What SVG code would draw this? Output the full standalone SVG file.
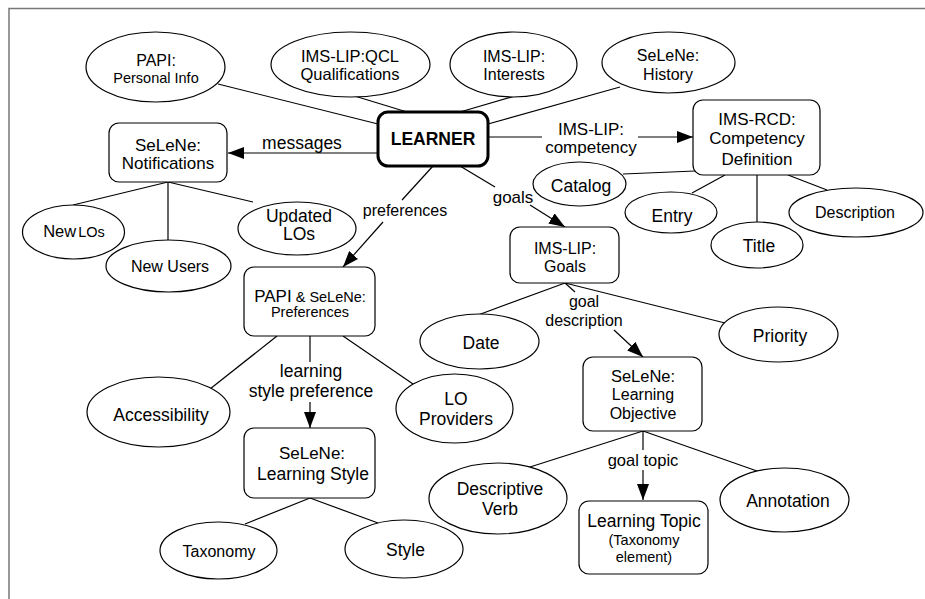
<svg xmlns="http://www.w3.org/2000/svg" width="925" height="599" viewBox="0 0 925 599">
<style>
text{font-family:"Liberation Sans",Arial,sans-serif;fill:#000;text-anchor:middle}
.n{fill:#fff;stroke:#000;stroke-width:1.2}
.b{fill:#fff;stroke:#000;stroke-width:1.2}
.c line,.c path{stroke:#000;stroke-width:1.2;fill:none}
.a{marker-end:url(#ah)}
.s175{font-size:17.5px}.s17{font-size:17px}.s165{font-size:16.5px}.s16{font-size:16px}.s145{font-size:14.5px}
</style>
<defs>
<marker id="ah" markerUnits="userSpaceOnUse" markerWidth="16" markerHeight="12" refX="16" refY="6" orient="auto">
<path d="M0,0 L16,6 L0,12 z" fill="#000"/>
</marker>
</defs>
<rect width="925" height="599" fill="#fff"/>
<path d="M9,599 V8.5 H925" fill="none" stroke="#777" stroke-width="1.5"/>
<g class="c" id="connectors">
<line x1="218" y1="84" x2="378" y2="124"/>
<line x1="348" y1="94" x2="407" y2="112"/>
<line x1="515" y1="96" x2="460" y2="112"/>
<line x1="620" y1="87" x2="488" y2="124"/>
<line class="a" x1="378" y1="153" x2="228" y2="153"/>
<line x1="488" y1="137" x2="542" y2="137"/>
<line class="a" x1="638" y1="137" x2="693" y2="137"/>
<line x1="460" y1="166" x2="495" y2="187"/>
<line class="a" x1="530" y1="205" x2="565" y2="227"/>
<line x1="433" y1="166" x2="402" y2="200"/>
<line class="a" x1="383" y1="222" x2="343" y2="267"/>
<line x1="623" y1="174" x2="695" y2="171"/>
<line x1="725" y1="175" x2="692" y2="193"/>
<line x1="757" y1="175" x2="757" y2="222"/>
<line x1="788" y1="175" x2="827" y2="190"/>
<line x1="168" y1="182" x2="73" y2="205"/>
<line x1="168" y1="182" x2="168" y2="240"/>
<line x1="168" y1="182" x2="253" y2="202"/>
<line x1="277" y1="336" x2="210" y2="389"/>
<line x1="343" y1="336" x2="413" y2="384"/>
<line x1="310" y1="336" x2="310" y2="362"/>
<line class="a" x1="310" y1="402" x2="310" y2="428"/>
<line x1="310" y1="498" x2="245" y2="524"/>
<line x1="310" y1="498" x2="378" y2="523"/>
<line x1="565" y1="283" x2="478" y2="315"/>
<line x1="565" y1="283" x2="725" y2="323"/>
<line x1="565" y1="283" x2="575" y2="292"/>
<line class="a" x1="614" y1="330" x2="643" y2="357"/>
<line x1="643" y1="431" x2="530" y2="467"/>
<line x1="643" y1="431" x2="757" y2="471"/>
<line x1="643" y1="431" x2="643" y2="450"/>
<line class="a" x1="643" y1="470" x2="643" y2="500"/>
<text class="s175" x="302" y="149">messages</text>
<text class="s17" x="591" y="135">IMS-LIP:</text>
<text class="s17" x="591" y="153">competency</text>
<text class="s17" x="513" y="203">goals</text>
<text class="s16" x="405" y="216">preferences</text>
<text class="s175" x="311" y="377">learning</text>
<text class="s175" x="311" y="397">style preference</text>
<text class="s16" x="584" y="307">goal</text>
<text class="s16" x="584" y="326">description</text>
<text class="s165" x="643" y="466">goal topic</text>
</g>
<g id="learner"><rect x="378" y="112" width="110" height="54" rx="10" fill="#fff" stroke="#000" stroke-width="3"/><text x="433" y="145" font-size="17.5" font-weight="bold">LEARNER</text></g>
<g id="papi"><ellipse class="n" cx="155.5" cy="67" rx="69.5" ry="35"/><text class="s16" x="156" y="65.5">PAPI:</text><text class="s145" x="156" y="83">Personal Info</text></g>
<g id="qcl"><ellipse class="n" cx="350.5" cy="64.5" rx="79.5" ry="32.5"/><text class="s165" x="350" y="62">IMS-LIP:QCL</text><text class="s165" x="350" y="80">Qualifications</text></g>
<g id="interests"><ellipse class="n" cx="513.5" cy="64.5" rx="63.5" ry="32.5"/><text class="s16" x="514" y="62">IMS-LIP:</text><text class="s16" x="514" y="80">Interests</text></g>
<g id="history"><ellipse class="n" cx="668.5" cy="62.5" rx="66.5" ry="30.5"/><text class="s16" x="668" y="61">SeLeNe:</text><text class="s16" x="668" y="79.5">History</text></g>
<g id="notifications"><rect class="b" x="109" y="123" width="118" height="59" rx="10"/><text class="s17" x="168" y="150.5">SeLeNe:</text><text class="s17" x="168" y="169">Notifications</text></g>
<g id="rcd"><rect class="b" x="693" y="100" width="127" height="75" rx="10"/><text class="s17" x="757" y="124.5">IMS-RCD:</text><text class="s17" x="757" y="143.5">Competency</text><text class="s17" x="757" y="165">Definition</text></g>
<g id="catalog"><ellipse class="n" cx="579.5" cy="184" rx="46.5" ry="22"/><text class="s175" x="581" y="191.5">Catalog</text></g>
<g id="entry"><ellipse class="n" cx="671" cy="212.5" rx="46" ry="20.5"/><text class="s175" x="672" y="221.5">Entry</text></g>
<g id="title"><ellipse class="n" cx="757" cy="245" rx="46" ry="23"/><text class="s175" x="759" y="251.5">Title</text></g>
<g id="description"><ellipse class="n" cx="856" cy="212.5" rx="67" ry="24.5"/><text class="s16" x="855" y="217.5">Description</text></g>
<g id="newlos"><ellipse class="n" cx="73.5" cy="232" rx="51" ry="27"/><text x="74" y="236.5"><tspan class="s165">New</tspan><tspan class="s145" dx="2">LOs</tspan></text></g>
<g id="newusers"><ellipse class="n" cx="168.5" cy="266" rx="62.5" ry="26"/><text class="s16" x="170" y="271.5">New Users</text></g>
<g id="updated"><ellipse class="n" cx="297" cy="228.5" rx="59" ry="26.5"/><text class="s175" x="299" y="221.5">Updated</text><text class="s175" x="299" y="240">LOs</text></g>
<g id="preferences"><rect class="b" x="244" y="267" width="131" height="69" rx="10"/><text x="310" y="302"><tspan class="s17">PAPI</tspan><tspan class="s145"> &amp; SeLeNe:</tspan></text><text class="s145" x="310" y="316.5">Preferences</text></g>
<g id="goals"><rect class="b" x="510" y="227" width="109" height="56" rx="10"/><text class="s16" x="565" y="253.5">IMS-LIP:</text><text class="s16" x="565" y="271.5">Goals</text></g>
<g id="date"><ellipse class="n" cx="479.5" cy="341.5" rx="59.5" ry="27.5"/><text class="s175" x="481" y="349">Date</text></g>
<g id="priority"><ellipse class="n" cx="778.5" cy="334.5" rx="59.5" ry="27.5"/><text class="s175" x="780" y="341.5">Priority</text></g>
<g id="objective"><rect class="b" x="583" y="357" width="119" height="74" rx="10"/><text class="s165" x="643" y="381.5">SeLeNe:</text><text class="s16" x="643" y="400">Learning</text><text class="s16" x="643" y="419">Objective</text></g>
<g id="accessibility"><ellipse class="n" cx="158.5" cy="412" rx="71.5" ry="35"/><text class="s175" x="161" y="420.5">Accessibility</text></g>
<g id="loproviders"><ellipse class="n" cx="454.5" cy="408.5" rx="58.5" ry="34.5"/><text class="s175" x="456" y="405">LO</text><text class="s175" x="456" y="425">Providers</text></g>
<g id="learningstyle"><rect class="b" x="244" y="428" width="131" height="70" rx="10"/><text class="s17" x="312" y="459">SeLeNe:</text><text class="s175" x="313" y="480">Learning Style</text></g>
<g id="taxonomy"><ellipse class="n" cx="218.5" cy="550.5" rx="58.5" ry="28.5"/><text class="s16" x="219" y="556.5">Taxonomy</text></g>
<g id="style"><ellipse class="n" cx="404" cy="549" rx="59" ry="29"/><text class="s175" x="405.5" y="556">Style</text></g>
<g id="verb"><ellipse class="n" cx="498" cy="498.5" rx="69" ry="35.5"/><text class="s175" x="500" y="495">Descriptive</text><text class="s175" x="500" y="515">Verb</text></g>
<g id="annotation"><ellipse class="n" cx="784.5" cy="500" rx="64.5" ry="32"/><text class="s175" x="788" y="507">Annotation</text></g>
<g id="topic"><rect class="b" x="579" y="501" width="129" height="73" rx="10"/><text class="s175" x="644" y="526.5">Learning Topic</text><text class="s145" x="644" y="545">(Taxonomy</text><text class="s145" x="644" y="561.5">element)</text></g>
</svg>
